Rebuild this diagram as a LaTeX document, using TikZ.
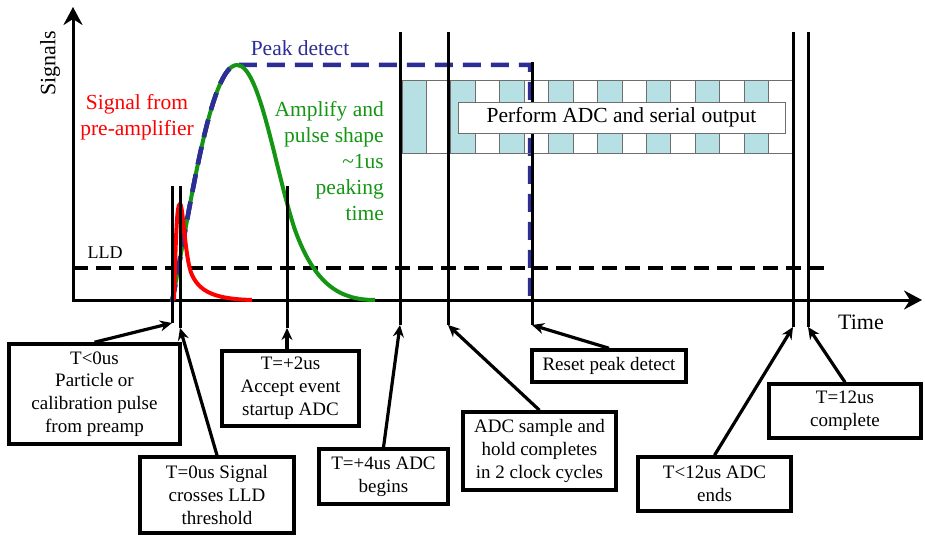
\documentclass[tikz,border=0pt]{standalone}
\usepackage{fontspec}
\setmainfont{Liberation Serif}
\usetikzlibrary{arrows.meta}
\definecolor{pkblue}{RGB}{45,45,150}
\definecolor{sgreen}{RGB}{20,150,20}
\definecolor{tealcell}{RGB}{182,224,228}
\definecolor{cellgray}{RGB}{110,110,110}
\begin{document}
\begin{tikzpicture}[x=1pt,y=-1pt,
  evbox/.style={draw, line width=3.5pt, fill=white, align=center, inner sep=2pt, font=\fontsize{19}{22.8}\selectfont},
  ptr/.style={line width=3.2pt, -{Stealth[length=12pt,width=11pt]}},
  tline/.style={line width=3pt},
  axisline/.style={line width=3pt, {Stealth[length=18pt,width=19pt,inset=6pt]}-{Stealth[length=18pt,width=19pt,inset=6pt]}},
  lbl/.style={font=\fontsize{21.5}{26}\selectfont, align=center, inner sep=0pt},
  cell/.style={draw=cellgray, line width=0.8pt},
]
\useasboundingbox (0,0) rectangle (925,537);

% axes
\coordinate (O) at (73,300);
\coordinate (ytip) at (73,7);
\coordinate (xtip) at (922,300);
\draw[axisline] (ytip) -- (O) -- (xtip);

% LLD threshold
\coordinate (lldL) at (73,268);
\coordinate (lldR) at (825,268);
\draw[line width=4pt, dash pattern=on 15pt off 8pt] (lldL) -- (lldR);

% peak detect (blue dashed)
\draw[pkblue, line width=4.5pt, dash pattern=on 18pt off 10pt]
  (172,302) .. controls (190,210) and (210,65) .. (237,65) -- (530,65) -- (530,300);

% ADC clock strip
\foreach \i in {0,2,...,14}
  \fill[tealcell] ({402+\i*24.4375},80) rectangle ({402+(\i+1)*24.4375},153);
\foreach \i in {0,...,15}
  \draw[cell] ({402+\i*24.4375},80) rectangle ({402+(\i+1)*24.4375},153);

% shaped pulse (green)
\draw[sgreen, line width=4pt]
  (172,302) .. controls (190,210) and (210,65) .. (237,65)
  .. controls (260,65) and (275,170) .. (295,230)
  .. controls (315,285) and (340,300) .. (375,300);
\draw[pkblue, line width=4.5pt, dash pattern=on 18pt off 10pt]
  (172,302) .. controls (190,210) and (210,65) .. (237,65);

% preamp signal (red)
\draw[red, line width=4pt]
  (174,300) .. controls (176,230) and (177,204) .. (180,204)
  .. controls (183,204) and (185,260) .. (192,275)
  .. controls (200,292) and (215,299) .. (252,300);

% time markers
\coordinate (t1) at (172,186); \coordinate (b1) at (172,323);
\coordinate (t2) at (180,186); \coordinate (b2) at (180,328);
\coordinate (t3) at (287,186); \coordinate (b3) at (287,328);
\coordinate (t4) at (400,32);  \coordinate (b4) at (400,325);
\coordinate (t5) at (448,32);  \coordinate (b5) at (448,325);
\coordinate (t6) at (532,62);  \coordinate (b6) at (532,325);
\coordinate (t7) at (793,32);  \coordinate (b7) at (793,327);
\coordinate (t8) at (808,32);  \coordinate (b8) at (808,327);
\foreach \k in {1,...,8} \draw[tline] (t\k) -- (b\k);

% ADC label box
\node[cell, fill=white, minimum width=327pt, minimum height=31pt, inner sep=0pt,
      font=\fontsize{21.5}{26}\selectfont] (adcbox) at (621.5,117.5) {Perform ADC and serial output};

% labels
\node[lbl, rotate=90, font=\fontsize{22}{26}\selectfont] (sig) at (50,63) {Signals};
\node[lbl, font=\fontsize{22}{26}\selectfont] (time) at (861,322) {Time};
\node[lbl, font=\fontsize{18}{22}\selectfont] (lld) at (105,253) {LLD};
\node[lbl, text=pkblue] (pk) at (300,48) {Peak detect};
\node[lbl, text=red] (pre) at (137,117.5) {Signal from\\pre-amplifier};
\node[lbl, text=sgreen, align=right, anchor=east] (amp) at (384,161)
  {Amplify and\\pulse shape\\\textasciitilde1us\\peaking\\time};

% event boxes
\node[evbox, minimum width=171pt, minimum height=100pt] (bx1) at (94.5,394)
  {T<0us\\Particle or\\calibration pulse\\from preamp};
\node[evbox, minimum width=154pt, minimum height=76pt] (bx2) at (217,495)
  {T=0us Signal\\crosses LLD\\threshold};
\node[evbox, minimum width=137pt, minimum height=75pt] (bx3) at (290.5,388.5)
  {T=+2us\\Accept event\\startup ADC};
\node[evbox, minimum width=129pt, minimum height=55pt] (bx4) at (383.5,476.5)
  {T=+4us ADC\\begins};
\node[evbox, minimum width=153pt, minimum height=78pt] (bx5) at (539.5,451)
  {ADC sample and\\hold completes\\in 2 clock cycles};
\node[evbox, minimum width=154pt, minimum height=32pt] (bx6) at (609,366)
  {Reset peak detect};
\node[evbox, minimum width=153pt, minimum height=54pt] (bx7) at (714.5,484)
  {T<12us ADC\\ends};
\node[evbox, minimum width=152pt, minimum height=54pt] (bx8) at (845,411)
  {T=12us\\complete};

% pointers
\draw[ptr] (bx1.north) -- (b1);
\draw[ptr] (bx2.north) -- (b2);
\draw[ptr] (bx3.north -| b3) -- (b3);
\draw[ptr] (bx4.north) -- (b4);
\draw[ptr] (bx5.north) -- (b5);
\draw[ptr] (bx6.north) -- (b6);
\draw[ptr] (bx7.north) -- (b7);
\draw[ptr] (bx8.north) -- (b8);
\end{tikzpicture}
\end{document}
